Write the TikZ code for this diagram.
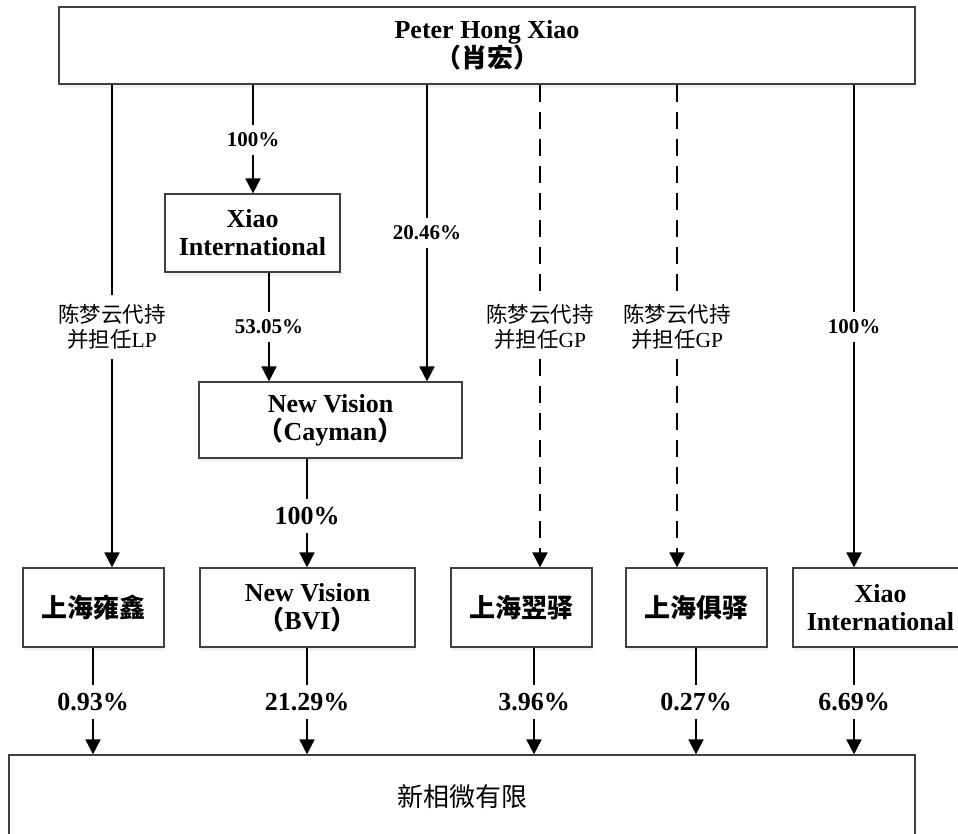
\documentclass[tikz,border=0pt]{standalone}
\usepackage{fontspec}
\setmainfont{Liberation Serif}
\newfontfamily\cjk{Noto Sans CJK SC}
\usetikzlibrary{arrows.meta,shadows}
\definecolor{boxline}{RGB}{64,64,64}
\definecolor{shade}{RGB}{218,229,245}

\begin{document}
\begin{tikzpicture}[x=1pt, y=-1pt,
    box/.style={shape=rectangle, draw=boxline, line width=1.2pt, fill=white, align=center, inner sep=0pt,
        font=\fontsize{26}{28}\selectfont\bfseries,
        drop shadow={shadow xshift=1pt, shadow yshift=-4pt, fill=shade}},
    pct/.style={inner sep=0pt, minimum height=29pt, font=\fontsize{21}{25}\selectfont\bfseries},
    bigpct/.style={inner sep=0pt, minimum height=33pt, font=\fontsize{26}{28}\selectfont\bfseries},
    note/.style={inner sep=0pt, minimum height=64pt, align=center, font=\fontsize{21.5}{25}\selectfont},
    link/.style={line width=1.8pt, -{Triangle[length=15pt,width=15pt]}},
    proxy/.style={link, dash pattern=on 17pt off 10pt}]
    \useasboundingbox (0,0) rectangle (958,833);

    \node[box, minimum width=856pt, minimum height=77pt] (owner) at (487,45.5) {Peter Hong Xiao\\{\cjk （肖宏）}};
    \node[box, minimum width=175pt, minimum height=78pt] (xint) at (252.5,233) {Xiao\\International};
    \node[box, minimum width=263pt, minimum height=76pt] (cayman) at (330.5,420) {New Vision\\{\cjk （}Cayman{\cjk ）}};
    \node[box, minimum width=141pt, minimum height=79pt] (yongxin) at (93.5,607.5) {\cjk 上海雍鑫};
    \node[box, minimum width=215pt, minimum height=79pt] (bvi) at (307.5,607.5) {New Vision\\{\cjk （}BVI{\cjk ）}};
    \node[box, minimum width=141pt, minimum height=79pt] (yiyi) at (521.5,607.5) {\cjk 上海翌驿};
    \node[box, minimum width=141pt, minimum height=79pt] (juyi) at (696.5,607.5) {\cjk 上海俱驿};
    \node[box, minimum width=175pt, minimum height=79pt] (xint2) at (880.5,607.5) {Xiao\\International};
    \node[box, minimum width=906pt, minimum height=84pt] (target) at (462,797) {\cjk\mdseries 新相微有限};

    \node[pct] (p1) at (253,140) {100\%};
    \node[pct] (p2) at (427,233) {20.46\%};
    \node[pct] (p3) at (269,327) {53.05\%};
    \node[pct] (p4) at (854,327) {100\%};
    \node[bigpct] (p5) at (307,516) {100\%};
    \node[note] (n1) at (112,327) {{\cjk 陈梦云代持}\\{\cjk 并担任}LP};
    \node[note] (n2) at (540,327) {{\cjk 陈梦云代持}\\{\cjk 并担任}GP};
    \node[note] (n3) at (677,327) {{\cjk 陈梦云代持}\\{\cjk 并担任}GP};

    \node[bigpct] (q1) at (93,702) {0.93\%};
    \node[bigpct] (q2) at (307,702) {21.29\%};
    \node[bigpct] (q3) at (534,702) {3.96\%};
    \node[bigpct] (q4) at (696,702) {0.27\%};
    \node[bigpct] (q5) at (854,702) {6.69\%};

    \draw[link] (owner.south -| n1) -- (n1) -- (yongxin.north -| n1);
    \draw[link] (owner.south -| p1) -- (p1) -- (xint.north -| p1);
    \draw[link] (owner.south -| p2) -- (p2) -- (cayman.north -| p2);
    \draw[proxy] (owner.south -| n2) -- (n2) -- (yiyi.north -| n2);
    \draw[proxy] (owner.south -| n3) -- (n3) -- (juyi.north -| n3);
    \draw[link] (owner.south -| p4) -- (p4) -- (xint2.north -| p4);
    \draw[link] (xint.south -| p3) -- (p3) -- (cayman.north -| p3);
    \draw[link] (cayman.south -| p5) -- (p5) -- (bvi.north -| p5);

    \draw[link] (yongxin.south -| q1) -- (q1) -- (target.north -| q1);
    \draw[link] (bvi.south -| q2) -- (q2) -- (target.north -| q2);
    \draw[link] (yiyi.south -| q3) -- (q3) -- (target.north -| q3);
    \draw[link] (juyi.south -| q4) -- (q4) -- (target.north -| q4);
    \draw[link] (xint2.south -| q5) -- (q5) -- (target.north -| q5);
\end{tikzpicture}
\end{document}
